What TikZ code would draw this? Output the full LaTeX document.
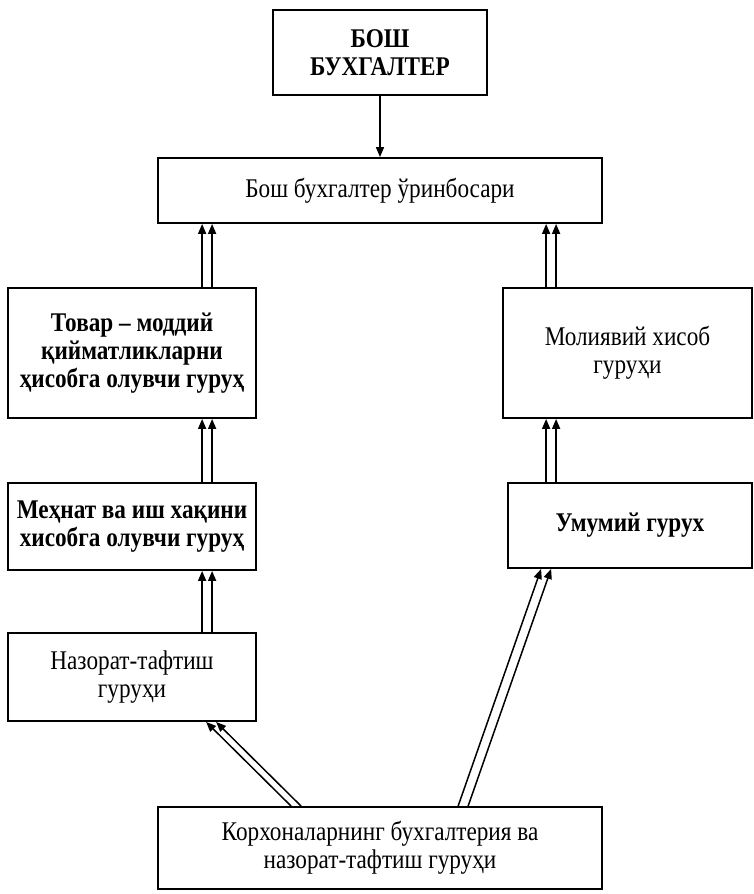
\documentclass[tikz,border=0pt]{standalone}
\usepackage{fontspec}
\setmainfont{Liberation Serif}[FakeStretch=0.86]
\usepackage{tikz}
\usetikzlibrary{arrows.meta,calc}

\tikzset{
  unit/.style={draw, line width=0.9pt, inner sep=2pt, align=center,
    font=\fontsize{13.5pt}{14pt}\selectfont},
  bunit/.style={unit, font=\fontsize{13.5pt}{14pt}\selectfont\bfseries},
  upar/.style={line width=0.75pt, -{Triangle[length=5pt,width=4pt]}}
}

\begin{document}
\begin{tikzpicture}[x=0.5pt,y=-0.5pt]
  \useasboundingbox (0,0) rectangle (754,894);
  % boxes
  \node[bunit, minimum width=107pt, minimum height=42.5pt] (boss) at (380,52.5) {БОШ\\БУХГАЛТЕР};
  \node[unit, minimum width=222pt, minimum height=32.5pt] (zam) at (380,190.5) {Бош бухгалтер ўринбосари};
  \node[bunit, minimum width=124pt, minimum height=65pt] (tovar) at (132,353) {Товар – моддий\\қийматликларни\\ҳисобга олувчи гуруҳ};
  \node[unit, minimum width=124.5pt, minimum height=65pt] (moliya) at (627.5,353) {Молиявий хисоб\\гуруҳи};
  \node[bunit, minimum width=124pt, minimum height=43.5pt] (mehnat) at (132,526.5) {Меҳнат ва иш хақини\\хисобга олувчи гуруҳ};
  \node[bunit, minimum width=122pt, minimum height=42.5pt] (umumiy) at (630,525.5) {Умумий гурух};
  \node[unit, minimum width=124pt, minimum height=44pt] (nazorat) at (132,677) {Назорат-тафтиш\\гуруҳи};
  \node[unit, minimum width=222pt, minimum height=41pt] (korxona) at (380,848) {Корхоналарнинг бухгалтерия ва\\назорат-тафтиш гуруҳи};
  % connectors
  \draw[upar] (boss) -- (zam);
  \foreach \d in {0,10} {
    \draw[upar] ($(tovar.north west)+(195+\d,0)$) -- ($(zam.south west)+(45+\d,0)$);
    \draw[upar] ($(mehnat.north west)+(195+\d,0)$) -- ($(tovar.south west)+(195+\d,0)$);
    \draw[upar] ($(nazorat.north west)+(195+\d,0)$) -- ($(mehnat.south west)+(195+\d,0)$);
    \draw[upar] ($(moliya.north west)+(44+\d,0)$) -- ($(zam.south west)+(389+\d,0)$);
    \draw[upar] ($(umumiy.north west)+(39+\d,0)$) -- ($(moliya.south west)+(44+\d,0)$);
    \draw[upar] ($(korxona.north west)+(134+\d,0)$) -- ($(nazorat.south west)+(199+\d,0)$);
    \draw[upar] ($(korxona.north west)+(301+\d,0)$) -- ($(umumiy.south west)+(34+\d,0)$);
  }
\end{tikzpicture}
\end{document}
